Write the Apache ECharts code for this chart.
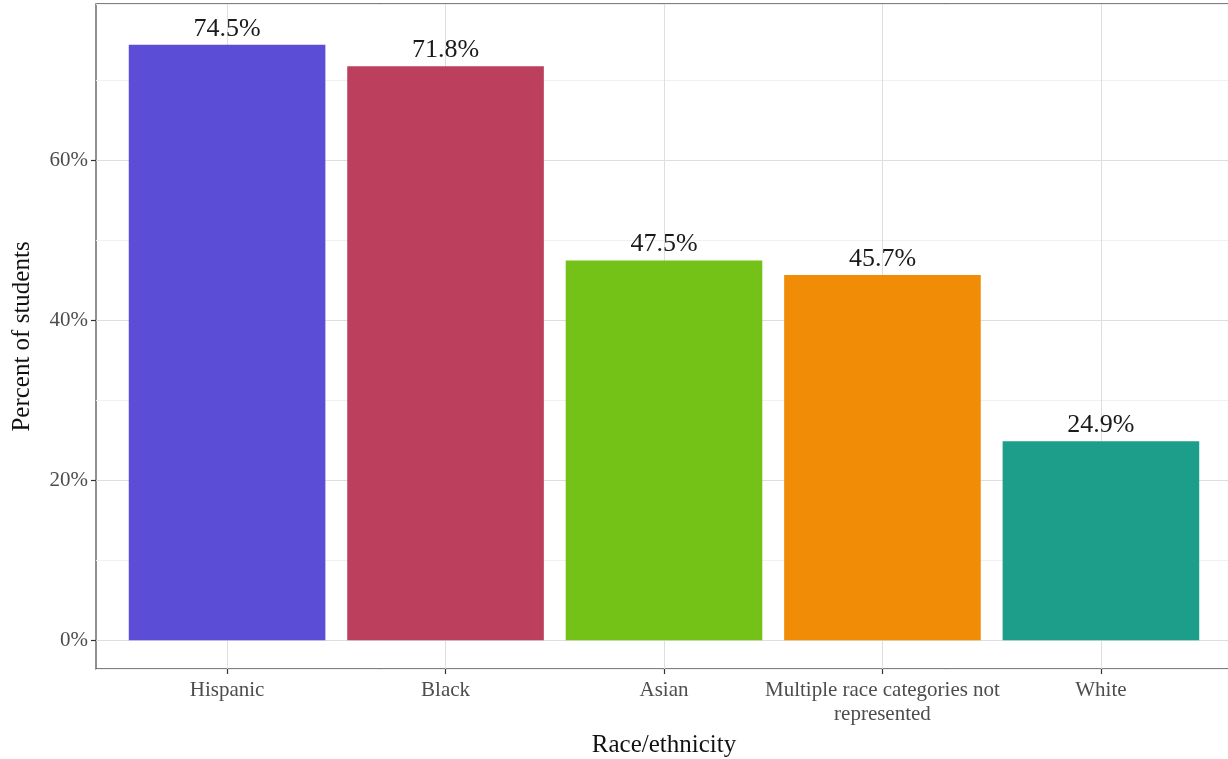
<!DOCTYPE html>
<html>
<head>
<meta charset="utf-8">
<script src="https://cdn.jsdelivr.net/npm/echarts@6/dist/echarts.min.js"></script>
<style>
html,body{margin:0;padding:0;background:#fff;overflow:hidden;}
#chart{width:1228px;height:759px;}
</style>
</head>
<body>
<div id="chart"></div>
<script>
const categories = ["Hispanic", "Black", "Asian", "Multiple race categories not represented", "White"];
const values = [74.5, 71.8, 47.5, 45.7, 24.9];
const yTicks = [0, 20, 40, 60];
const xPositions = [1, 2, 3, 4, 5];

const palette = ["#5B4DD6", "#BC3F5E", "#74C118", "#F08C05", "#1D9E8A"];
const FONT = "Liberation Serif";

function wrap(s, maxChars) {
  const words = s.split(' ');
  const lines = [];
  let cur = '';
  words.forEach(function (w) {
    if (cur && (cur + ' ' + w).length > maxChars) { lines.push(cur); cur = w; }
    else { cur = cur ? cur + ' ' + w : w; }
  });
  if (cur) lines.push(cur);
  return lines.join('\n');
}

const chart = echarts.init(document.getElementById('chart'), null, {renderer: 'canvas', width: 1228, height: 759});
const option = {
  backgroundColor: '#ffffff',
  animation: false,
  grid: {
    left: 96, top: 4, width: 1136, height: 665,
    outerBoundsMode: 'none', containLabel: false,
    show: true, borderColor: '#555555', borderWidth: 1.3, backgroundColor: 'transparent'
  },
  xAxis: {
    type: 'value',
    min: 0.4, max: 5.6,
    splitNumber: 5,
    axisLine: {show: false, onZero: false},
    axisTick: {show: true, length: 5, lineStyle: {color: '#333333', width: 1.2}, customValues: xPositions},
    axisLabel: {
      customValues: xPositions,
      showMinLabel: true, showMaxLabel: true, hideOverlap: false,
      formatter: function (v) { return Number.isInteger(v) && v >= 1 && v <= categories.length ? wrap(categories[v - 1], 28) : ''; },
      fontFamily: FONT, fontSize: 21, color: '#4D4D4D', margin: 9, lineHeight: 24
    },
    splitLine: {show: true, lineStyle: {color: '#DEDEDE', width: 1}},
    name: 'Race/ethnicity',
    nameLocation: 'middle',
    nameGap: 64,
    nameTextStyle: {fontFamily: FONT, fontSize: 25, color: '#111111'}
  },
  yAxis: [
    {
      type: 'value',
      min: -3.6, max: 79.6,
      splitNumber: 8,
      z: 0,
      axisLine: {show: false, onZero: false},
      axisTick: {show: false},
      axisLabel: {show: false},
      splitLine: {show: true, lineStyle: {color: '#F0F0F0', width: 1}}
    },
    {
      type: 'value',
      position: 'left',
      min: -3.6, max: 79.6,
      splitNumber: 5,
      z: 1,
      axisLine: {show: false, onZero: false},
      axisTick: {show: true, length: 5, lineStyle: {color: '#333333', width: 1.2}, customValues: yTicks},
      axisLabel: {
        customValues: yTicks,
        showMinLabel: true, showMaxLabel: true, hideOverlap: false,
        formatter: function (v) { return v + '%'; },
        fontFamily: FONT, fontSize: 21, color: '#4D4D4D', margin: 8
      },
      splitLine: {show: true, lineStyle: {color: '#DEDEDE', width: 1}},
      name: 'Percent of students',
      nameLocation: 'middle',
      nameRotate: 90,
      nameGap: 61,
      nameTextStyle: {fontFamily: FONT, fontSize: 25, color: '#111111'}
    }
  ],
  series: [{
    type: 'bar',
    yAxisIndex: 1,
    barWidth: '90%',
    data: values.map(function (v, i) {
      return {value: [xPositions[i], v], itemStyle: {color: palette[i]}};
    }),
    label: {
      show: true,
      position: 'top',
      distance: 3,
      formatter: function (p) { return p.value[1].toFixed(1) + '%'; },
      fontFamily: FONT, fontSize: 26, color: '#1A1A1A'
    }
  }]
};
chart.setOption(option);
</script>
</body>
</html>
